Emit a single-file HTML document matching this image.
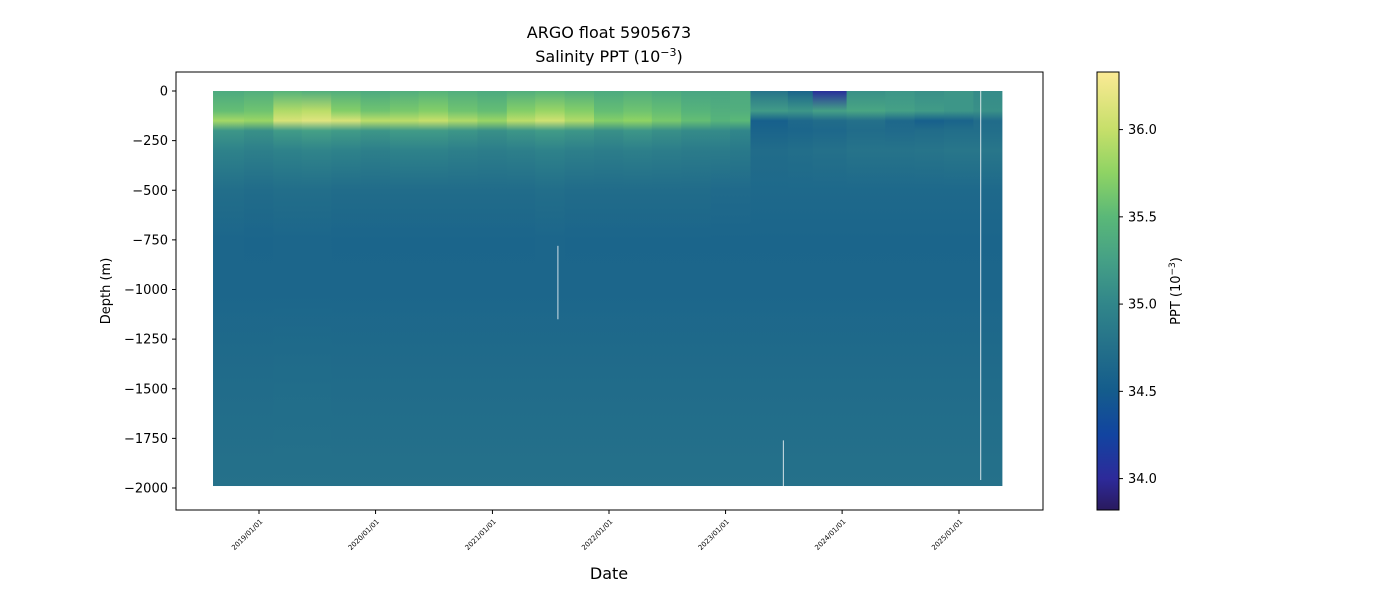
<!DOCTYPE html>
<html><head><meta charset="utf-8"><style>
body{margin:0;background:#fff;font-family:"Liberation Sans","DejaVu Sans",sans-serif}
svg text{font-family:"DejaVu Sans","Liberation Sans",sans-serif}
</style></head><body>
<svg id="chart" width="1400" height="600" xmlns="http://www.w3.org/2000/svg">
<defs>
<linearGradient id="cbar" x1="0" y1="1" x2="0" y2="0"></linearGradient>
<clipPath id="plotclip"><rect x="176" y="72" width="867" height="438"/></clipPath>
</defs>
<text x="609" y="38" font-size="16" text-anchor="middle">ARGO float 5905673</text>
<text x="609" y="62" font-size="16" text-anchor="middle">Salinity PPT (10<tspan dy="-6" font-size="11">−3</tspan><tspan dy="6">)</tspan></text>
<g id="heat" clip-path="url(#plotclip)"></g>
<rect x="176" y="72" width="867" height="438" fill="none" stroke="#000" stroke-width="1"/>
<g id="axes"></g>
<text x="609" y="579" font-size="16" text-anchor="middle">Date</text>
<text transform="translate(110,291) rotate(-90)" font-size="13" text-anchor="middle">Depth (m)</text>
<rect x="1097" y="72" width="22" height="438" fill="url(#cbar)" stroke="#000" stroke-width="1"/>
<g id="cbaxis"></g>
<text transform="translate(1180,291) rotate(-90)" font-size="13" text-anchor="middle">PPT (10<tspan dy="-5" font-size="9">−3</tspan><tspan dy="5">)</tspan></text>
</svg>
<script>
const NS="http://www.w3.org/2000/svg";
// data
const depthLevels=[0,-100,-150,-200,-300,-500,-750,-1000,-1500,-1990];
const profileDates=["2018-08-10","2018-11-15","2019-02-15","2019-05-15","2019-08-15","2019-11-15","2020-02-15","2020-05-15","2020-08-15","2020-11-15","2021-02-15","2021-05-15","2021-08-15","2021-11-15","2022-02-15","2022-05-15","2022-08-15","2022-11-15","2023-01-15","2023-03-20","2023-07-15","2023-10-01","2024-01-15","2024-05-15","2024-08-15","2024-11-15","2025-02-15"];
const salinity=[
[35.35,35.55,35.85,35.15,34.95,34.72,34.62,34.63,34.70,34.76],
[35.40,35.60,35.80,35.10,34.92,34.70,34.61,34.63,34.70,34.76],
[35.45,35.90,36.10,35.20,34.95,34.72,34.62,34.63,34.71,34.76],
[35.40,35.95,36.15,35.25,34.98,34.72,34.62,34.63,34.71,34.76],
[35.40,35.70,36.10,35.20,34.95,34.70,34.61,34.63,34.70,34.76],
[35.35,35.60,35.95,35.15,34.92,34.70,34.61,34.63,34.70,34.76],
[35.40,35.65,35.95,35.20,34.95,34.70,34.61,34.63,34.70,34.76],
[35.45,35.70,36.00,35.20,34.95,34.70,34.61,34.63,34.70,34.76],
[35.40,35.60,35.90,35.15,34.92,34.70,34.61,34.63,34.70,34.76],
[35.35,35.55,35.80,35.10,34.90,34.70,34.61,34.63,34.70,34.76],
[35.40,35.70,35.95,35.15,34.92,34.70,34.61,34.63,34.70,34.76],
[35.45,35.80,36.05,35.20,34.95,34.72,34.62,34.63,34.70,34.76],
[35.40,35.70,35.90,35.15,34.92,34.70,34.61,34.63,34.70,34.76],
[35.35,35.55,35.70,35.10,34.90,34.70,34.61,34.63,34.70,34.76],
[35.40,35.60,35.75,35.15,34.92,34.70,34.61,34.63,34.70,34.76],
[35.35,35.55,35.65,35.10,34.90,34.70,34.61,34.63,34.70,34.76],
[35.30,35.45,35.55,35.05,34.88,34.70,34.61,34.63,34.70,34.76],
[35.30,35.40,35.45,35.05,34.88,34.68,34.61,34.63,34.70,34.76],
[35.35,35.40,35.50,35.00,34.85,34.68,34.61,34.63,34.70,34.76],
[34.80,35.20,34.55,34.60,34.70,34.66,34.61,34.63,34.70,34.76],
[34.60,35.15,34.65,34.62,34.72,34.66,34.61,34.63,34.70,34.76],
[34.05,35.25,34.70,34.65,34.75,34.66,34.61,34.63,34.70,34.76],
[35.10,35.30,34.75,34.70,34.78,34.66,34.61,34.63,34.70,34.76],
[35.15,35.25,34.65,34.68,34.78,34.66,34.61,34.63,34.70,34.76],
[35.10,35.20,34.55,34.70,34.80,34.66,34.61,34.63,34.70,34.76],
[35.15,35.15,34.60,34.72,34.82,34.66,34.61,34.63,34.70,34.76],
[35.05,35.10,34.70,34.72,34.82,34.66,34.61,34.63,34.70,34.76]];
const endDate="2025-05-15";
const xTickLabels=["2019/01/01","2020/01/01","2021/01/01","2022/01/01","2023/01/01","2024/01/01","2025/01/01"];
const yTicks=[0,-250,-500,-750,-1000,-1250,-1500,-1750,-2000];
const cbTicks=[34.0,34.5,35.0,35.5,36.0];
const cmin=33.82,cmax=36.33;
const cmapStops=[[33.82,"#2a1a5e"],[34.0,"#2d2a9a"],[34.25,"#1244a0"],[34.5,"#145c8c"],[34.75,"#24708a"],[35.0,"#31868a"],[35.25,"#45a086"],[35.5,"#5ab878"],[35.75,"#8ed364"],[36.0,"#c6df6a"],[36.33,"#fbea95"]];

// scales
const t0=Date.UTC(2019,0,1), t1=Date.UTC(2025,0,1);
function xs(d){const t=typeof d==="string"?Date.parse(d):d;return 259+(t-t0)/(t1-t0)*(959-259);}
function ys(v){return 91+(v/-2000)*(488-91);}
function cs(v){return 510-(v-cmin)/(cmax-cmin)*438;}
function hex(c){return [1,3,5].map(i=>parseInt(c.substr(i,2),16));}
function color(v){
  if(v<=cmapStops[0][0])return cmapStops[0][1];
  for(let i=1;i<cmapStops.length;i++){if(v<=cmapStops[i][0]){const a=cmapStops[i-1],b=cmapStops[i];const f=(v-a[0])/(b[0]-a[0]);const A=hex(a[1]),B=hex(b[1]);return "rgb("+A.map((x,k)=>Math.round(x+(B[k]-x)*f)).join(",")+")";}}
  return cmapStops[cmapStops.length-1][1];
}
const svg=document.getElementById("chart");
const defs=svg.querySelector("defs");
const cg=document.getElementById("cbar");
cmapStops.forEach(s=>{const st=document.createElementNS(NS,"stop");st.setAttribute("offset",((s[0]-cmin)/(cmax-cmin)*100)+"%");st.setAttribute("stop-color",s[1]);cg.appendChild(st);});
const heat=document.getElementById("heat");
profileDates.forEach((d,i)=>{
  const x0=xs(d), x1=xs(i+1<profileDates.length?profileDates[i+1]:endDate);
  const g=document.createElementNS(NS,"linearGradient");
  g.setAttribute("id","col"+i);g.setAttribute("x1","0");g.setAttribute("x2","0");
  g.setAttribute("gradientUnits","userSpaceOnUse");g.setAttribute("y1",ys(0));g.setAttribute("y2",ys(depthLevels[depthLevels.length-1]));
  depthLevels.forEach((z,k)=>{const st=document.createElementNS(NS,"stop");st.setAttribute("offset",(z/depthLevels[depthLevels.length-1]*100)+"%");st.setAttribute("stop-color",color(salinity[i][k]));g.appendChild(st);});
  defs.appendChild(g);
  const r=document.createElementNS(NS,"rect");
  
  
  r.setAttribute("x",x0);r.setAttribute("width",x1-x0+0.6);r.setAttribute("y",ys(0));r.setAttribute("height",ys(depthLevels[depthLevels.length-1])-ys(0));
  r.setAttribute("fill","url(#col"+i+")");heat.appendChild(r);
});
[["2021-07-25",-780,-1150],["2023-07-01",-1760,-2000],["2025-03-10",0,-1960]].forEach(g=>{
  const l=document.createElementNS(NS,"line");
  
  
  l.setAttribute("x1",xs(g[0]));l.setAttribute("x2",xs(g[0]));l.setAttribute("y1",ys(g[1]));l.setAttribute("y2",ys(g[2]));
  l.setAttribute("stroke","#ffffff");l.setAttribute("stroke-width","1");l.setAttribute("opacity","0.8");heat.appendChild(l);
});
const ax=document.getElementById("axes");
xTickLabels.forEach(lab=>{
  const x=xs(lab.replace(/\//g,"-"));
  const l=document.createElementNS(NS,"line");
  
  
  l.setAttribute("x1",x);l.setAttribute("x2",x);l.setAttribute("y1",510);l.setAttribute("y2",514);l.setAttribute("stroke","#000");ax.appendChild(l);
  const t=document.createElementNS(NS,"text");
  
  
  t.setAttribute("transform","translate("+(x+4)+",522) rotate(-45)");t.setAttribute("text-anchor","end");t.setAttribute("font-size","7");t.textContent=lab;ax.appendChild(t);
});
yTicks.forEach(v=>{
  const y=ys(v);
  const l=document.createElementNS(NS,"line");
  
  
  l.setAttribute("x1",172);l.setAttribute("x2",176);l.setAttribute("y1",y);l.setAttribute("y2",y);l.setAttribute("stroke","#000");ax.appendChild(l);
  const t=document.createElementNS(NS,"text");
  
  
  t.setAttribute("x",168);t.setAttribute("y",y+4.5);t.setAttribute("text-anchor","end");t.setAttribute("font-size","13");t.textContent=v===0?"0":"−"+Math.abs(v);ax.appendChild(t);
});
const cb=document.getElementById("cbaxis");
cbTicks.forEach(v=>{
  const y=cs(v);
  const l=document.createElementNS(NS,"line");
  
  
  l.setAttribute("x1",1119);l.setAttribute("x2",1123);l.setAttribute("y1",y);l.setAttribute("y2",y);l.setAttribute("stroke","#000");cb.appendChild(l);
  const t=document.createElementNS(NS,"text");
  
  
  t.setAttribute("x",1128);t.setAttribute("y",y+4.5);t.setAttribute("font-size","13");t.textContent=v.toFixed(1);cb.appendChild(t);
});
</script>
</body></html>
